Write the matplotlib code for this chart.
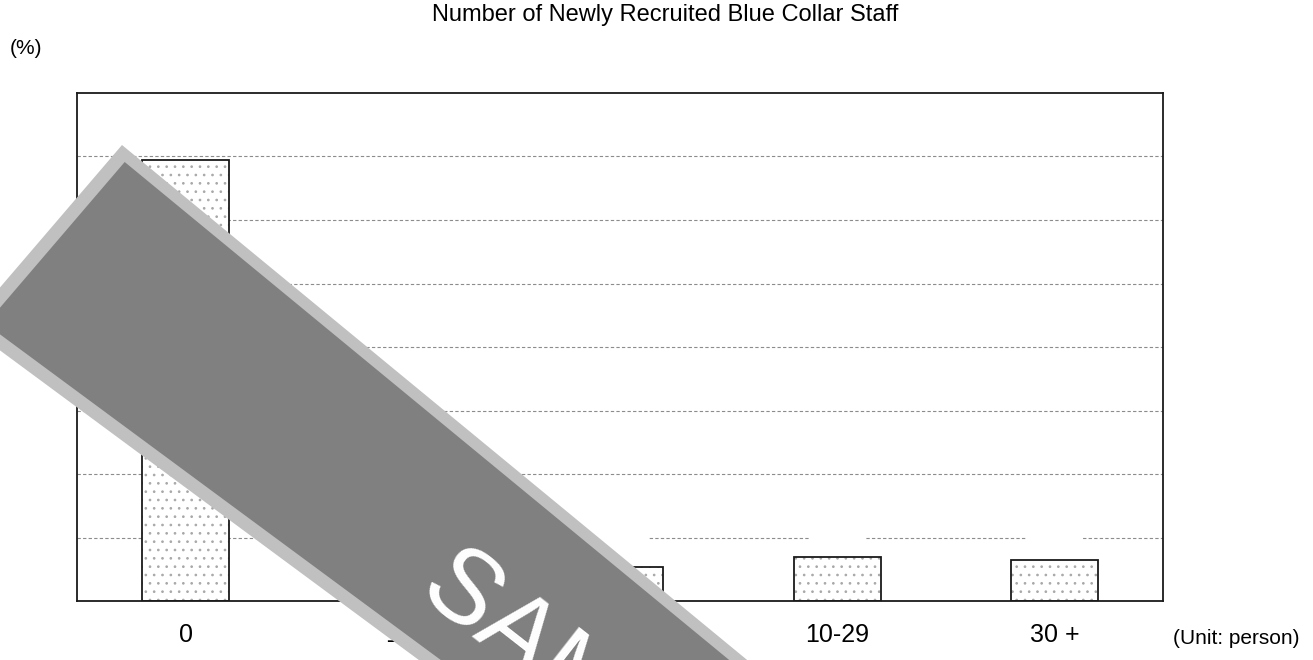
import matplotlib
matplotlib.use("Agg")
import matplotlib.pyplot as plt
from matplotlib.patches import Polygon
from matplotlib.transforms import Affine2D
import numpy as np

plt.rcParams["font.family"] = ["Liberation Sans", "DejaVu Sans"]
plt.rcParams["hatch.linewidth"] = 0.7

title = "Number of Newly Recruited Blue Collar Staff"
categories = ["0", "1-4", "5-9", "10-29", "30 +"]
shares = [69.5, 11.6, 5.4, 7.0, 6.5]
grid_levels = [10, 20, 30, 40, 50, 60, 70]

W, H = 1313, 660
fig = plt.figure(figsize=(W / 100, H / 100), dpi=100)
# pixel coordinates with the origin at the top-left corner
px = Affine2D().scale(1 / W, -1 / H).translate(0, 1) + fig.transFigure

ax = fig.add_axes([77 / W, 1 - 601 / H, (1163 - 77) / W, (601 - 93) / H])
x = np.arange(len(categories))
ax.set_xlim(-0.5, len(categories) - 0.5)
ax.set_ylim(0, 80)

ax.set_yticks(grid_levels)
ax.yaxis.grid(True, linestyle=(0, (3, 2)), color="#8c8c8c", linewidth=0.8)
ax.set_axisbelow(True)
ax.tick_params(axis="y", length=0, labelleft=False)
ax.set_xticks(x, categories, fontsize=18)
ax.tick_params(axis="x", length=0, pad=15.5)
for side in ax.spines.values():
    side.set_linewidth(1.3)
    side.set_color("#1a1a1a")

# dotted fill first, black outline on top
ax.bar(x, shares, width=0.4, color="white", edgecolor="#a8a8a8", hatch="..", linewidth=0, zorder=2)
ax.bar(x, shares, width=0.4, fill=False, edgecolor="#1a1a1a", linewidth=1.3, zorder=3)

# value labels are white on white boxes
for xi, v in zip(x, shares):
    ax.annotate(f"{v:.1f}", (xi, v), xytext=(0, 14.5), textcoords="offset points",
                ha="center", va="bottom", fontsize=13, color="white", zorder=2.5,
                bbox=dict(boxstyle="square,pad=0.85", fc="white", ec="none"))

fig.text(665, 15, title, transform=px, ha="center", va="center", fontsize=17)
fig.text(10, 48, "(%)", transform=px, ha="left", va="center", fontsize=15)
fig.text(1173, 638, "(Unit: person)", transform=px, ha="left", va="center", fontsize=15)

# diagonal watermark band
outer = [(122, 145), (820, 720), (500, 720), (-33, 326)]
inner = [(124.7, 162), (802, 720), (522, 720), (-14, 324)]
fig.add_artist(Polygon(outer, closed=True, transform=px, facecolor="#c0c0c0", edgecolor="none", zorder=10))
fig.add_artist(Polygon(inner, closed=True, transform=px, facecolor="#808080", edgecolor="none", zorder=11))
fig.text(415, 595, "SAMPLE", transform=px, rotation=-38, rotation_mode="anchor",
         ha="left", va="baseline", fontsize=76, color="white", zorder=12)

fig.savefig("out.png", dpi=100)
